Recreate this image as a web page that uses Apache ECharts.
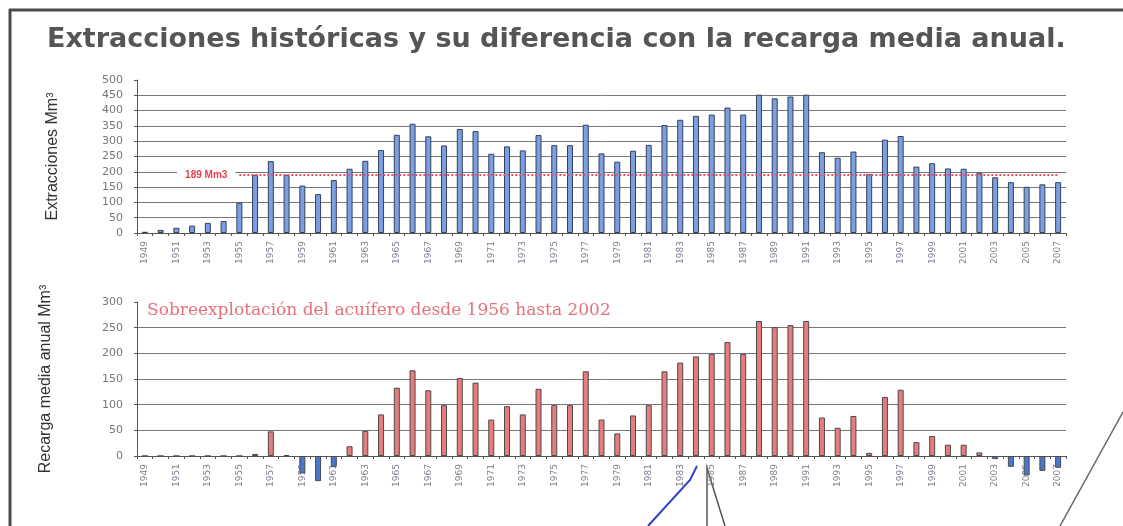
<!DOCTYPE html>
<html>
<head>
<meta charset="utf-8">
<script src="https://cdn.jsdelivr.net/npm/echarts@6/dist/echarts.min.js"></script>
<style>
  html, body { margin: 0; padding: 0; background: #fff; }
  #chart { width: 1123px; height: 526px; }
</style>
</head>
<body>
<div id="chart"></div>
<script>
// Años (categorías)
const years = ['1949', '1950', '1951', '1952', '1953', '1954', '1955', '1956', '1957', '1958',
  '1959', '1960', '1961', '1962', '1963', '1964', '1965', '1966', '1967', '1968',
  '1969', '1970', '1971', '1972', '1973', '1974', '1975', '1976', '1977', '1978',
  '1979', '1980', '1981', '1982', '1983', '1984', '1985', '1986', '1987', '1988',
  '1989', '1990', '1991', '1992', '1993', '1994', '1995', '1996', '1997', '1998',
  '1999', '2000', '2001', '2002', '2003', '2004', '2005', '2006', '2007'];

// Extracciones (Mm3)
const extracciones = [4, 10, 17, 24, 33, 39, 99, 190, 235, 190,
  155, 127, 173, 210, 236, 271, 321, 357, 316, 286,
  340, 333, 259, 283, 270, 320, 287, 287, 354, 260,
  233, 269, 288, 353, 370, 383, 387, 410, 387, 452,
  440, 446, 452, 264, 246, 266, 193, 305, 317, 217,
  228, 211, 210, 197, 182, 166, 151, 159, 166];

// Diferencia con la recarga media anual (Mm3)
const diferencia = [0, 0, 0, 0, 0, 0, 0, 4, 48, 2,
  -34, -49, -21, 19, 49, 81, 133, 167, 128, 99,
  152, 143, 71, 97, 81, 131, 99, 99, 165, 71,
  44, 79, 99, 165, 182, 194, 199, 222, 199, 263,
  251, 255, 263, 75, 55, 78, 6, 115, 129, 27,
  39, 22, 22, 7, -6, -21, -38, -29, -23];

// Recarga media anual
const recargaMedia = 189;
const recargaLabel = '189 Mm3';

const titulo = 'Extracciones históricas y su diferencia con la recarga media anual.';
const nota = 'Sobreexplotación del acuífero desde 1956 hasta 2002';

var chart = echarts.init(document.getElementById('chart'));

var labelStyle = {
    color: '#7c7f90',
    fontSize: 9,
    fontFamily: 'DejaVu Sans'
};

var option = {
    animation: false,
    backgroundColor: '#fff',
    title: {
        text: titulo,
        left: 42,
        top: 21,
        textStyle: {
            fontFamily: 'DejaVu Sans',
            fontWeight: 'bold',
            fontSize: 27,
            color: '#555'
        }
    },
    grid: [
        { left: 137, top: 80, width: 929, height: 153 },
        { left: 137, top: 302, width: 929, height: 154 }
    ],
    xAxis: [
        {
            type: 'category', gridIndex: 0, data: years,
            axisLine: { lineStyle: { color: '#555' } },
            axisTick: { show: true, interval: 0, length: 3, lineStyle: { color: '#555' } },
            axisLabel: Object.assign({ interval: 1, rotate: 90, margin: 8 }, labelStyle)
        },
        {
            type: 'category', gridIndex: 1, data: years,
            axisLine: { lineStyle: { color: '#555' } },
            axisTick: { show: true, interval: 0, length: 3, lineStyle: { color: '#555' } },
            axisLabel: Object.assign({ interval: 1, rotate: 90, margin: 8 }, labelStyle)
        }
    ],
    yAxis: [
        {
            type: 'value', gridIndex: 0, min: 0, max: 500, interval: 50,
            name: 'Extracciones Mm³',
            nameLocation: 'middle', nameRotate: 90, nameGap: 76,
            nameTextStyle: { fontFamily: 'Liberation Sans', fontSize: 16, color: '#333' },
            axisLine: { show: true, lineStyle: { color: '#555' } },
            axisTick: { show: true, length: 3 },
            axisLabel: { color: '#777', fontSize: 11, fontFamily: 'DejaVu Sans', margin: 14 },
            splitLine: {
                lineStyle: {
                    color: ['#777', '#777', '#777', '#777', '#777', '#777', '#777', '#777', '#777', '#777', 'rgba(0,0,0,0)']
                }
            }
        },
        {
            type: 'value', gridIndex: 1, min: 0, max: 300, interval: 50,
            name: 'Recarga media anual Mm³',
            nameLocation: 'middle', nameRotate: 90, nameGap: 83,
            nameTextStyle: { fontFamily: 'Liberation Sans', fontSize: 16, color: '#333' },
            axisLine: { show: true, lineStyle: { color: '#555' } },
            axisTick: { show: true, length: 3 },
            axisLabel: { color: '#777', fontSize: 11, fontFamily: 'DejaVu Sans', margin: 14 },
            splitLine: {
                lineStyle: {
                    color: ['#777', '#777', '#777', '#777', '#777', '#777', 'rgba(0,0,0,0)']
                }
            }
        }
    ],
    series: [
        {
            name: 'Extracciones',
            type: 'bar',
            xAxisIndex: 0, yAxisIndex: 0,
            data: extracciones,
            barWidth: 6,
            itemStyle: { color: '#7b9fe0', borderColor: '#34405e', borderWidth: 1 },
            markLine: {
                silent: true,
                symbol: 'none',
                lineStyle: { type: 'dotted', color: '#e2506a', width: 2 },
                label: {
                    show: true,
                    position: 'start',
                    formatter: recargaLabel,
                    color: '#e8404f',
                    fontSize: 10,
                    fontWeight: 'bold',
                    backgroundColor: '#fff',
                    padding: [2, 8],
                    distance: 4
                },
                data: [[{ xAxis: '1955', yAxis: recargaMedia }, { xAxis: '2007', yAxis: recargaMedia }]]
            }
        },
        {
            name: 'Diferencia',
            type: 'bar',
            xAxisIndex: 1, yAxisIndex: 1,
            data: diferencia,
            barWidth: 6,
            clip: false,
            itemStyle: {
                color: function (p) { return p.value < 0 ? '#4a78cc' : '#e87b80'; },
                borderColor: '#4a4a4a',
                borderWidth: 1
            }
        }
    ],
    graphic: [
        // Nota de sobreexplotación
        {
            type: 'text', left: 147, top: 302,
            style: { text: nota, fill: '#e8707c', fontFamily: 'DejaVu Serif', fontSize: 17 }
        },
        // Marco
        { type: 'line', shape: { x1: 9, y1: 10, x2: 1123, y2: 10 }, style: { stroke: '#4a4a4a', lineWidth: 3 } },
        { type: 'line', shape: { x1: 10, y1: 9, x2: 10, y2: 526 }, style: { stroke: '#4a4a4a', lineWidth: 3 } },
        // Líneas de llamada
        { type: 'polyline', shape: { points: [[697, 466], [690, 480], [648, 526]] }, style: { stroke: '#2f3fcc', lineWidth: 2, fill: null } },
        { type: 'polyline', shape: { points: [[707, 526], [707, 468], [725, 526]] }, style: { stroke: '#555', lineWidth: 1.5, fill: null } },
        { type: 'line', shape: { x1: 1123, y1: 412, x2: 1060, y2: 526 }, style: { stroke: '#666', lineWidth: 1.5 } }
    ]
};

chart.setOption(option);

window.addEventListener('resize', function () {
    chart.resize();
});
</script>
</body>
</html>
